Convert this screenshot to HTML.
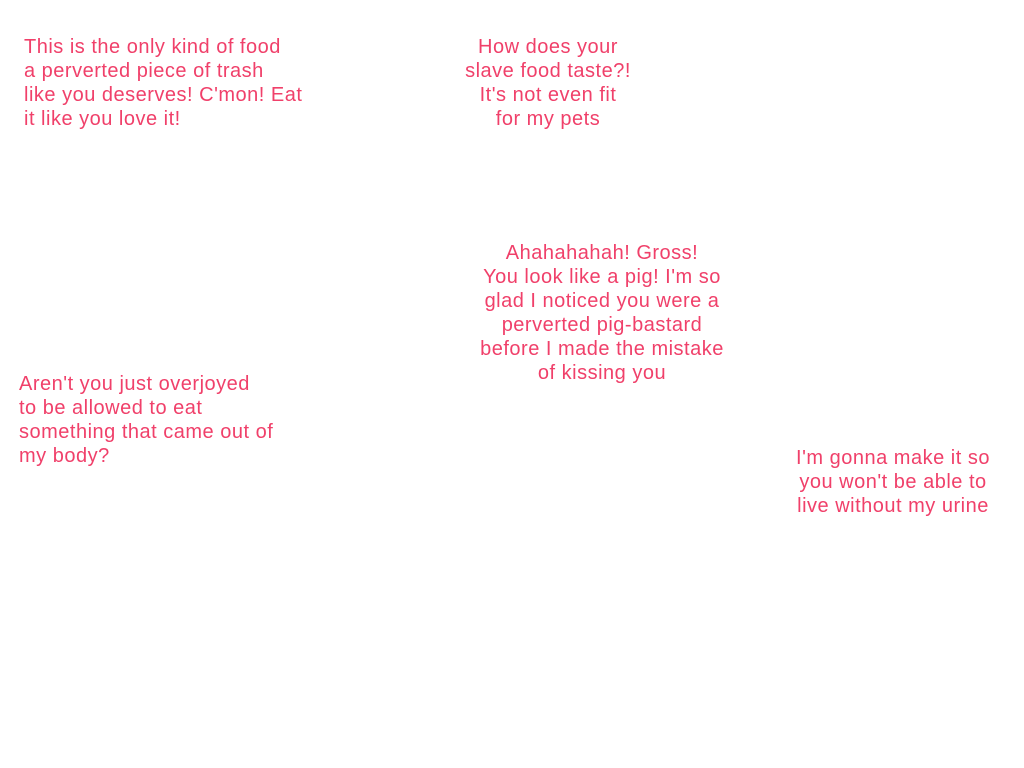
<!DOCTYPE html>
<html><head><meta charset="utf-8"><style>
html,body{margin:0;padding:0;background:#fff;width:1024px;height:768px;overflow:hidden;position:relative}
.t{position:absolute;font-family:"Liberation Sans",sans-serif;font-size:20px;letter-spacing:0.5px;line-height:24px;color:#f0406a;white-space:pre}
.c{text-align:center}
</style></head><body>
<div class="t" style="left:24px;top:35px">This is the only kind of food
a perverted piece of trash
like you deserves! C'mon! Eat
it like you love it!</div>
<div class="t c" style="left:398px;width:300px;top:35px">How does your
slave food taste?!
It's not even fit
for my pets</div>
<div class="t c" style="left:452px;width:300px;top:241px">Ahahahahah! Gross!
You look like a pig! I'm so
glad I noticed you were a
perverted pig-bastard
before I made the mistake
of kissing you</div>
<div class="t" style="left:19px;top:372px">Aren't you just overjoyed
to be allowed to eat
something that came out of
my body?</div>
<div class="t c" style="left:743px;width:300px;top:446px">I'm gonna make it so
you won't be able to
live without my urine</div>
</body></html>
